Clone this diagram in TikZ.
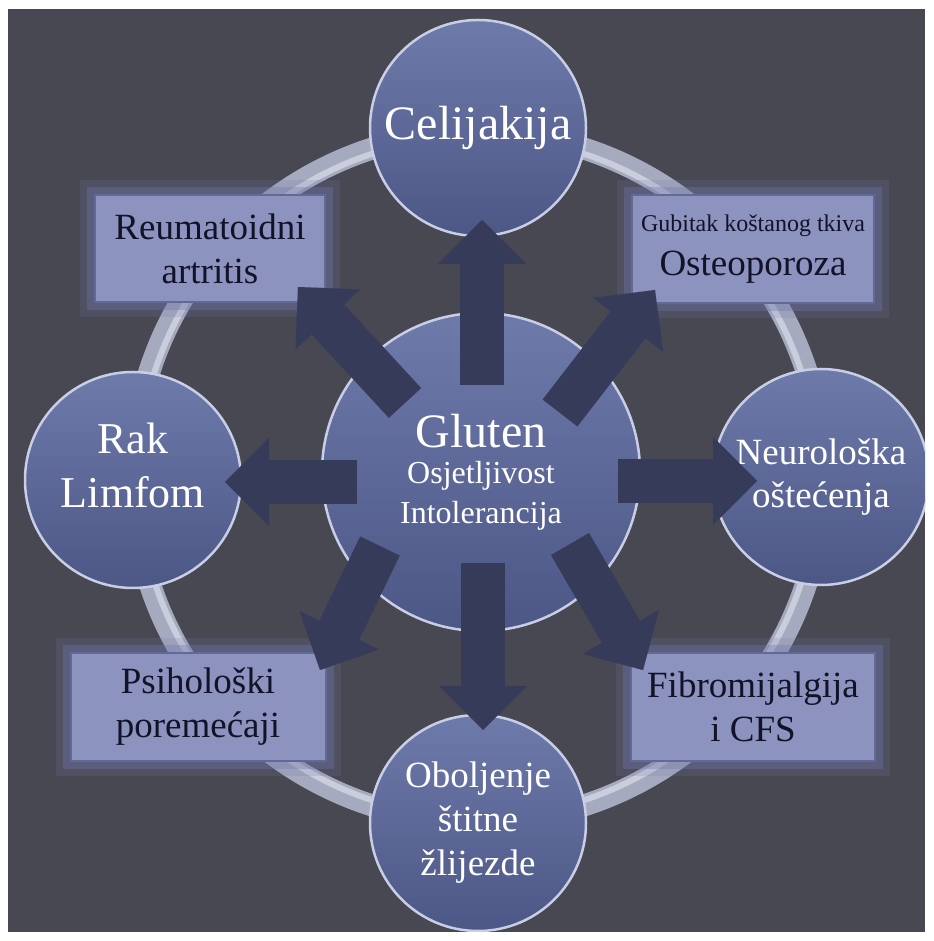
\documentclass[tikz,border=0pt]{standalone}
\usepackage{fontspec}
\setmainfont{Liberation Serif}
\usetikzlibrary{arrows.meta}

\definecolor{pozadina}{RGB}{72,72,83}
\definecolor{strelBoja}{RGB}{54,59,90}
\definecolor{krugGore}{RGB}{110,122,170}
\definecolor{krugDolje}{RGB}{76,87,134}
\definecolor{krugRub}{RGB}{200,206,230}
\definecolor{kutBoja}{RGB}{140,147,190}
\definecolor{kutRub}{RGB}{98,105,150}
\definecolor{kutSjaj}{RGB}{112,120,170}
\definecolor{prstenBoja}{RGB}{166,170,190}
\definecolor{prstenSjaj}{RGB}{218,220,232}
\definecolor{tekstTaman}{RGB}{18,18,40}

\begin{document}
\begin{tikzpicture}[x=1pt,y=1pt,
  krug/.style={circle, minimum size=216pt, inner sep=0pt, top color=krugGore, bottom color=krugDolje,
    draw=krugRub, line width=2.5pt, text=white, align=center},
  kutija/.style={rectangle, inner sep=0pt, fill=kutBoja, draw=kutRub, line width=2pt, text=tekstTaman,
    align=center, font=\fontsize{37}{44}\selectfont,
    preaction={draw=kutSjaj, line width=30pt, opacity=0.18},
    preaction={draw=kutSjaj, line width=16pt, opacity=0.35}},
  blok/.style={strelBoja, line width=44pt, -{Triangle[width=88pt, length=44pt, line width=0.01pt]}}]
\useasboundingbox (0,0) rectangle (933,941);
\fill[white] (0,0) rectangle (933,941);
\fill[pozadina] (8,9) rectangle (925,932);

\begin{scope}
\clip (8,9) rectangle (925,932);

% prsten
\draw[prstenBoja, line width=22pt] (478,464) circle[radius=345];
\draw[prstenSjaj, line width=6pt, opacity=0.7] (478,464) circle[radius=340];

% kutije
\node[kutija, minimum width=230pt, minimum height=107pt] (reum) at (210,692) {Reumatoidni\\artritis};
\node[kutija, minimum width=242pt, minimum height=108pt] (osteo) at (753,692) {{\fontsize{24}{28}\selectfont Gubitak koštanog tkiva}\\Osteoporoza};
\node[kutija, minimum width=255pt, minimum height=108pt] (psih) at (198,234) {Psihološki\\poremećaji};
\node[kutija, minimum width=244pt, minimum height=108pt] (fibro) at (753,234) {Fibromijalgija\\i CFS};

% krugovi
\node[krug, font=\fontsize{48}{56}\selectfont] (celij) at (478,813) {Celijakija};
\node[krug, font=\fontsize{44}{54}\selectfont, text depth=30pt] (rak) at (133,461) {Rak\\Limfom};
\node[krug, font=\fontsize{37}{43}\selectfont] (neuro) at (821,464) {Neurološka\\oštećenja};
\node[krug, font=\fontsize{37}{44}\selectfont] (obolj) at (478,118) {Oboljenje\\štitne\\žlijezde};
\node[krug, minimum size=318pt, font=\fontsize{32}{40}\selectfont] (gluten) at (481,469)
  {{\fontsize{48}{52}\selectfont Gluten}\\[-4pt]Osjetljivost\\Intolerancija};

% strelice
\coordinate (p1) at (482,556); \coordinate (v1) at (482,721);
\coordinate (p2) at (560,528); \coordinate (v2) at (655,651);
\coordinate (p3) at (618,460); \coordinate (v3) at (757,460);
\coordinate (p4) at (570,397); \coordinate (v4) at (643,271);
\coordinate (p5) at (483,378); \coordinate (v5) at (483,211);
\coordinate (p6) at (380,395); \coordinate (v6) at (320,271);
\coordinate (p7) at (357,459); \coordinate (v7) at (225,459);
\coordinate (p8) at (405,538); \coordinate (v8) at (298,654);

\draw[blok] (p1) -- (v1);
\draw[blok] (p2) -- (v2);
\draw[blok] (p3) -- (v3);
\draw[blok] (p4) -- (v4);
\draw[blok] (p5) -- (v5);
\draw[blok] (p6) -- (v6);
\draw[blok] (p7) -- (v7);
\draw[blok] (p8) -- (v8);
\end{scope}
\end{tikzpicture}
\end{document}
